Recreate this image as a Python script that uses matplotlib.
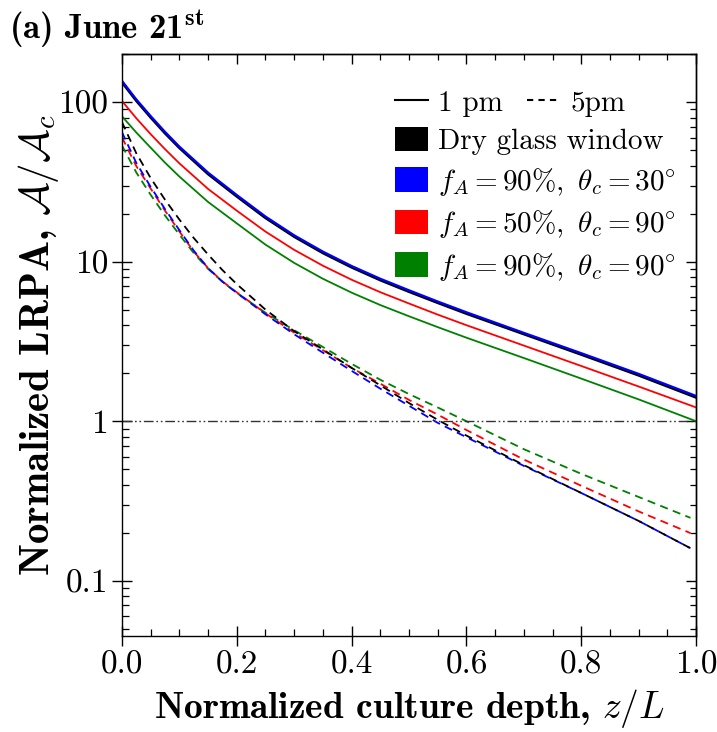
import matplotlib
matplotlib.use('Agg')
import matplotlib.pyplot as plt
from matplotlib.lines import Line2D
from matplotlib.patches import Patch
from matplotlib.ticker import FixedLocator, MultipleLocator, LogLocator, NullFormatter, FuncFormatter

plt.rcParams['font.family'] = 'cmr10'
plt.rcParams['mathtext.fontset'] = 'cm'
plt.rcParams['axes.formatter.use_mathtext'] = True

# 读数：横坐标（归一化深度）
z_1pm = [0, 0.025, 0.05, 0.075, 0.1, 0.15, 0.2, 0.25, 0.3, 0.35, 0.4,
         0.45, 0.5, 0.55, 0.6, 0.7, 0.8, 0.9, 1.0]
z_5pm = [0, 0.025, 0.05, 0.075, 0.1, 0.125, 0.15, 0.175, 0.2, 0.25, 0.3,
         0.35, 0.4, 0.45, 0.5, 0.55, 0.6, 0.7, 0.8, 0.9, 0.99]

# 1 pm 曲线
dry_1pm = [133.7, 102.3, 80.4, 64.0, 51.8, 35.5, 25.7, 18.84, 14.37, 11.35, 9.23,
           7.67, 6.49, 5.53, 4.73, 3.52, 2.62, 1.94, 1.41]
f90_t30_1pm = [136.2, 104.2, 81.9, 65.2, 52.7, 36.2, 26.2, 19.2, 14.64, 11.57, 9.40,
               7.82, 6.62, 5.63, 4.82, 3.58, 2.67, 1.98, 1.44]
f50_t90_1pm = [101.9, 79.4, 63.1, 50.8, 41.4, 28.6, 20.9, 15.45, 11.87, 9.44, 7.71,
               6.44, 5.47, 4.66, 4.00, 2.98, 2.22, 1.65, 1.22]
f90_t90_1pm = [81.7, 64.6, 51.9, 41.8, 34.2, 23.7, 17.4, 12.8, 9.83, 7.82, 6.40,
               5.35, 4.55, 3.89, 3.34, 2.49, 1.85, 1.37, 1.00]

# 5 pm 曲线
dry_5pm = [75.2, 47.9, 33.5, 24.5, 18.4, 14.1, 11.1, 8.87, 7.24, 5.01, 3.67,
           2.82, 2.16, 1.68, 1.30, 1.02, 0.813, 0.531, 0.355, 0.237, 0.160]
f90_t30_5pm = [65.0, 41.7, 29.5, 21.4, 15.8, 11.75, 9.12, 7.50, 6.38, 4.68, 3.51,
               2.69, 2.07, 1.60, 1.25, 0.977, 0.794, 0.525, 0.355, 0.237, 0.160]
f50_t90_5pm = [60.3, 39.8, 28.8, 20.9, 15.5, 11.6, 9.12, 7.53, 6.43, 4.75, 3.59,
               2.79, 2.16, 1.72, 1.36, 1.10, 0.881, 0.575, 0.394, 0.272, 0.199]
f90_t90_5pm = [53.7, 36.3, 26.3, 19.5, 14.8, 11.35, 9.02, 7.50, 6.38, 4.79, 3.72,
               2.92, 2.29, 1.82, 1.48, 1.22, 1.00, 0.668, 0.468, 0.335, 0.248]

labels = ['Dry glass window',
          r'$f_A=90\%,\ \theta_c=30\!^\circ$',
          r'$f_A=50\%,\ \theta_c=90\!^\circ$',
          r'$f_A=90\%,\ \theta_c=90\!^\circ$']
colors = ['black', '#0000ff', '#ff0000', '#008000']

fig = plt.figure(figsize=(7.17, 7.32), dpi=100)
ax = fig.add_axes([0.170, 0.131, 0.801, 0.795])

dash = (0, (4.5, 3))
# 5 pm 虚线
ax.plot(z_5pm, f90_t90_5pm, ls=dash, color=colors[3], lw=1.3)
ax.plot(z_5pm, f50_t90_5pm, ls=dash, color=colors[2], lw=1.3)
ax.plot(z_5pm, f90_t30_5pm, ls=dash, color=colors[1], lw=1.3)
ax.plot(z_5pm, dry_5pm, ls=dash, color=colors[0], lw=1.3)
# 1 pm 实线
ax.plot(z_1pm, f90_t90_1pm, '-', color=colors[3], lw=1.3)
ax.plot(z_1pm, f50_t90_1pm, '-', color=colors[2], lw=1.3)
ax.plot(z_1pm, dry_1pm, '-', color=colors[0], lw=2.0)
ax.plot(z_1pm, f90_t30_1pm, '-', color=colors[1], lw=1.6)

# y = 1 参考线
ax.axhline(1.0, color='#333333', lw=1.0, ls=(0, (7, 2, 1.2, 2, 1.2, 2)))

ax.set_yscale('log')
ax.set_xlim(0, 1.0)
ax.set_ylim(0.045, 200)

ax.xaxis.set_major_locator(MultipleLocator(0.2))
ax.xaxis.set_minor_locator(MultipleLocator(0.05))
ax.xaxis.set_major_formatter(FuncFormatter(lambda v, p: f'{v:.1f}'))
ax.yaxis.set_major_locator(FixedLocator([0.1, 1, 10, 100]))
ax.yaxis.set_minor_locator(LogLocator(base=10, subs=range(2, 10)))
ax.yaxis.set_minor_formatter(NullFormatter())
ax.yaxis.set_major_formatter(FuncFormatter(lambda v, p: f'{v:g}'))

ax.tick_params(which='major', direction='inout', length=14, width=1.0,
               labelsize=24, pad=3, top=False, right=False)
ax.tick_params(which='minor', direction='in', length=5, width=0.9,
               top=False, right=False)
for s in ax.spines.values():
    s.set_linewidth(1.0)

# 顶部和右侧刻度（只朝内）
ax_top = ax.secondary_xaxis('top')
ax_top.xaxis.set_major_locator(MultipleLocator(0.2))
ax_top.xaxis.set_minor_locator(MultipleLocator(0.05))
ax_top.tick_params(which='major', direction='in', length=7, width=1.0, labeltop=False)
ax_top.tick_params(which='minor', direction='in', length=4, width=0.9)
ax_top.spines['top'].set_linewidth(1.0)

ax_right = ax.secondary_yaxis('right')
ax_right.yaxis.set_major_locator(FixedLocator([0.1, 1, 10, 100]))
ax_right.yaxis.set_minor_locator(LogLocator(base=10, subs=range(2, 10)))
ax_right.yaxis.set_minor_formatter(NullFormatter())
ax_right.tick_params(which='major', direction='in', length=7, width=1.0, labelright=False)
ax_right.tick_params(which='minor', direction='in', length=4, width=0.9)
ax_right.spines['right'].set_linewidth(1.0)

ax.set_xlabel(r'Normalized culture depth, $\mathit{z/L}$', family='cmb10',
              fontsize=27, labelpad=6)
ax.set_ylabel(r'Normalized LRPA, $\mathcal{A}/\mathcal{A}_c$', family='cmb10',
              fontsize=29.5, labelpad=-2)

# 图例：线型
style_handles = [Line2D([], [], color='black', lw=1.5, ls='-'),
                 Line2D([], [], color='black', lw=1.5, ls=(0, (3, 2.5)))]
leg1 = ax.legend(style_handles, ['1 pm', '5pm'], ncol=2, loc='upper left',
                 bbox_to_anchor=(0.475, 0.938), frameon=False, fontsize=21,
                 handlelength=1.15, handletextpad=0.35, columnspacing=0.8,
                 borderpad=0, borderaxespad=0)
ax.add_artist(leg1)

# 图例：颜色
patch_handles = [Patch(facecolor=c, edgecolor='none') for c in colors]
ax.legend(patch_handles, labels, loc='upper left', bbox_to_anchor=(0.475, 0.875),
          frameon=False, fontsize=21, handlelength=1.15, handleheight=0.9,
          handletextpad=0.35, labelspacing=0.36, borderpad=0, borderaxespad=0)

fig.text(0.012, 0.99, r'(a) June 21$^{\mathbf{st}}$', family='cmb10',
         fontsize=25, va='top', ha='left')

fig.savefig('out.png', dpi=100)
